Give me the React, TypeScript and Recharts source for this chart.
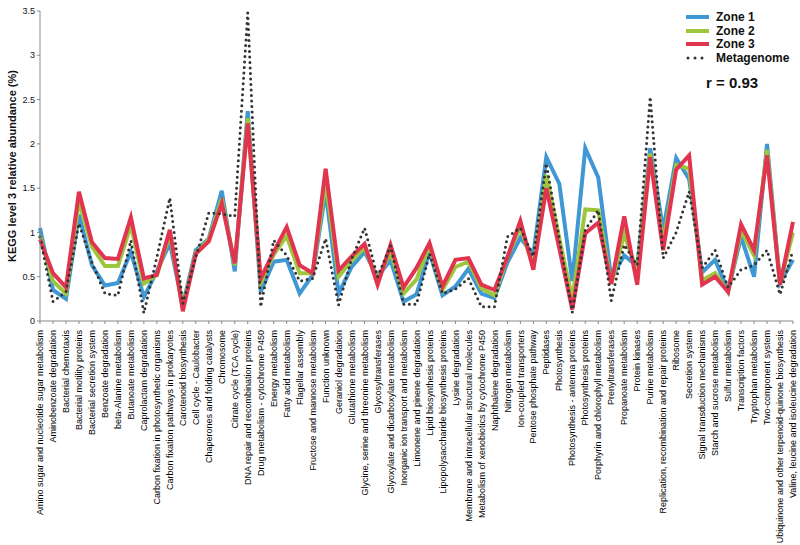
import React from 'react';
import { LineChart, Line, XAxis, YAxis } from 'recharts';

// KEGG level 3 pathways (x categories)
const categories = [
  'Amino sugar and nucleotide sugar metabolism', 'Aminobenzoate degradation', 'Bacterial chemotaxis',
  'Bacterial motility proteins', 'Bacterial secretion system', 'Benzoate degradation', 'beta-Alanine metabolism',
  'Butanoate metabolism', 'Caprolactam degradation', 'Carbon fixation in photosynthetic organisms',
  'Carbon fixation pathways in prokaryotes', 'Carotenoid biosynthesis', 'Cell cycle - Caulobacter',
  'Chaperones and folding catalysts', 'Chromosome', 'Citrate cycle (TCA cycle)',
  'DNA repair and recombination proteins', 'Drug metabolism - cytochrome P450', 'Energy metabolism',
  'Fatty acid metabolism', 'Flagellar assembly', 'Fructose and mannose metabolism', 'Function unknown',
  'Geraniol degradation', 'Glutathione metabolism', 'Glycine, serine and threonine metabolism',
  'Glycosyltransferases', 'Glyoxylate and dicarboxylate metabolism', 'Inorganic ion transport and metabolism',
  'Limonene and pinene degradation', 'Lipid biosynthesis proteins', 'Lipopolysaccharide biosynthesis proteins',
  'Lysine degradation', 'Membrane and intracellular structural molecules',
  'Metabolism of xenobiotics by cytochrome P450', 'Naphthalene degradation', 'Nitrogen metabolism',
  'Ion-coupled transporters', 'Pentose phosphate pathway', 'Peptidases', 'Photosynthesis',
  'Photosynthesis - antenna proteins', 'Photosynthesis proteins', 'Porphyrin and chlorophyll metabolism',
  'Prenyltransferases', 'Propanoate metabolism', 'Protein kinases', 'Purine metabolism',
  'Replication, recombination and repair proteins', 'Ribosome', 'Secretion system',
  'Signal transduction mechanisms', 'Starch and sucrose metabolism', 'Sulfur metabolism',
  'Transcription factors', 'Tryptophan metabolism', 'Two-component system',
  'Ubiquinone and other terpenoid-quinone biosynthesis', 'Valine, leucine and isoleucine degradation',
];

const zone1 = [
  1.05, 0.35, 0.25, 1.2, 0.63, 0.4, 0.43, 0.78, 0.27, 0.56,
  0.88, 0.18, 0.8, 0.93, 1.47, 0.56, 2.37, 0.33, 0.67, 0.69,
  0.31, 0.52, 1.46, 0.31, 0.61, 0.78, 0.5, 0.69, 0.22, 0.3,
  0.78, 0.29, 0.39, 0.59, 0.31, 0.26, 0.66, 0.94, 0.75, 1.85,
  1.55, 0.45, 1.95, 1.62, 0.48, 0.74, 0.62, 1.95, 1.03, 1.84,
  1.6, 0.55, 0.69, 0.34, 0.95, 0.5, 2.0, 0.43, 0.69,
];

const zone2 = [
  0.96, 0.45, 0.31, 1.35, 0.84, 0.62, 0.62, 1.08, 0.42, 0.52,
  0.98, 0.15, 0.77, 0.92, 1.38, 0.63, 2.29, 0.43, 0.75, 0.96,
  0.54, 0.54, 1.57, 0.5, 0.68, 0.83, 0.46, 0.78, 0.31, 0.47,
  0.85, 0.35, 0.61, 0.67, 0.37, 0.29, 0.72, 1.06, 0.62, 1.65,
  0.93, 0.25, 1.26, 1.25, 0.42, 0.98, 0.55, 1.89, 0.88, 1.76,
  1.72, 0.46, 0.54, 0.33, 1.02, 0.74, 1.93, 0.42, 1.0,
];

const zone3 = [
  0.92, 0.54, 0.38, 1.46, 0.89, 0.71, 0.7, 1.17, 0.48, 0.52,
  1.03, 0.11, 0.76, 0.9, 1.33, 0.65, 2.23, 0.48, 0.78, 1.06,
  0.63, 0.54, 1.72, 0.57, 0.73, 0.87, 0.41, 0.86, 0.38, 0.6,
  0.88, 0.39, 0.69, 0.71, 0.41, 0.35, 0.72, 1.13, 0.58, 1.5,
  0.82, 0.13, 0.99, 1.11, 0.42, 1.18, 0.41, 1.85, 0.8, 1.71,
  1.87, 0.41, 0.5, 0.33, 1.09, 0.8, 1.87, 0.41, 1.12,
];

const metagenome = [
  0.95, 0.22, 0.33, 1.1, 0.66, 0.31, 0.29, 0.91, 0.09, 0.72,
  1.39, 0.2, 0.72, 1.22, 1.21, 1.18, 3.48, 0.16, 0.91, 0.74,
  0.45, 0.48, 0.93, 0.18, 0.7, 1.05, 0.5, 0.85, 0.19, 0.19,
  0.76, 0.31, 0.36, 0.48, 0.16, 0.16, 0.95, 1.05, 0.73, 1.78,
  0.93, 0.1, 1.03, 1.25, 0.23, 0.86, 0.63, 2.53, 0.71, 1.0,
  1.46, 0.6, 0.8, 0.38, 0.58, 0.63, 0.8, 0.3, 0.8,
];

const yTicks = [0, 0.5, 1, 1.5, 2, 2.5, 3, 3.5];

const data = categories.map((name, i) => ({
  name,
  zone1: zone1[i],
  zone2: zone2[i],
  zone3: zone3[i],
  meta: metagenome[i],
}));

const BLUE = '#3f97d3';
const GREEN = '#9cc63c';
const RED = '#e0344f';
const DOTS = '#333';
const FONT = 'Liberation Sans, Arial, sans-serif';

const CategoryTick = (props: any) => {
  const { x, y, payload } = props;
  return (
    <text
      x={x}
      y={y + 4}
      transform={`rotate(-90, ${x}, ${y + 4})`}
      textAnchor="end"
      dy="0.35em"
      fontSize={9}
      fontFamily={FONT}
      fill="#000"
    >
      {payload.value}
    </text>
  );
};

const legendItems = [
  { label: 'Zone 1', color: BLUE, dotted: false },
  { label: 'Zone 2', color: GREEN, dotted: false },
  { label: 'Zone 3', color: RED, dotted: false },
  { label: 'Metagenome', color: DOTS, dotted: true },
];

// legend sits on top of the plot, outside recharts layout so it doesn't shrink the plot
const ChartLegend = () => (
  <div style={{ position: 'absolute', left: 686, top: 10, fontFamily: FONT, fontWeight: 'bold', fontSize: 12, color: '#111' }}>
    {legendItems.map(it => (
      <div key={it.label} style={{ display: 'flex', alignItems: 'center', height: 13.7 }}>
        <svg width={24} height={8} style={{ marginRight: 6 }}>
          {it.dotted ? (
            <line x1={2} y1={4} x2={22} y2={4} stroke={it.color} strokeWidth={3}
              strokeDasharray="0 7" strokeLinecap="round" />
          ) : (
            <line x1={0} y1={4} x2={23} y2={4} stroke={it.color} strokeWidth={4} />
          )}
        </svg>
        <span>{it.label}</span>
      </div>
    ))}
    <div style={{ fontSize: 15, marginTop: 9, marginLeft: 20 }}>r = 0.93</div>
  </div>
);

export default function App() {
  return (
    <div style={{ position: 'absolute', left: 0, top: 0, width: 800, height: 545, background: '#fff' }}>
      <LineChart width={800} height={545} data={data} margin={{ top: 11, right: 7, bottom: 0, left: 0 }}>
        <XAxis
          dataKey="name"
          interval={0}
          height={224}
          tick={<CategoryTick />}
          tickSize={3}
          stroke="#888"
        />
        <YAxis
          domain={[0, 3.5]}
          ticks={yTicks}
          width={40}
          tickSize={3}
          stroke="#888"
          tick={{ fontSize: 9, fill: '#111', fontFamily: FONT }}
          label={{
            value: 'KEGG level 3 relative abundance (%)',
            angle: -90,
            position: 'insideLeft',
            offset: 12,
            style: { textAnchor: 'middle', fontSize: 11, fontWeight: 'bold', fill: '#111', fontFamily: FONT },
          }}
        />
        <Line dataKey="zone1" stroke={BLUE} strokeWidth={4} dot={false} strokeLinejoin="miter" isAnimationActive={false} />
        <Line dataKey="zone2" stroke={GREEN} strokeWidth={4} dot={false} strokeLinejoin="miter" isAnimationActive={false} />
        <Line dataKey="zone3" stroke={RED} strokeWidth={4} dot={false} strokeLinejoin="miter" isAnimationActive={false} />
        <Line dataKey="meta" stroke={DOTS} strokeWidth={3} strokeDasharray="0 5.5" strokeLinecap="round"
          dot={false} isAnimationActive={false} />
      </LineChart>
      <ChartLegend />
    </div>
  );
}
